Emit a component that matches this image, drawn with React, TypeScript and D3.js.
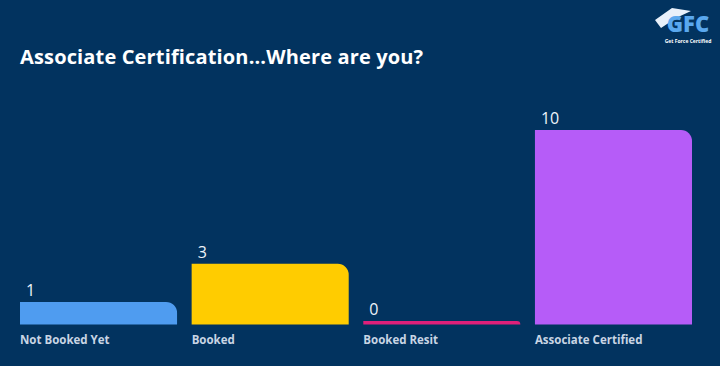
import React from "react";
import * as d3 from "d3";

const categories = ["Not Booked Yet", "Booked", "Booked Resit", "Associate Certified"];
const values = [1, 3, 0, 10];
const colors = ["#4f9cf0", "#ffcc00", "#e0207a", "#b65cf8"];

const W = 720;
const H = 366;

function barPath(x0: number, x1: number, yTop: number, yBottom: number, r: number) {
  const h = yBottom - yTop;
  const rr = Math.min(r, h, x1 - x0);
  if (rr < 1) return `M${x0},${yTop}H${x1}V${yBottom}H${x0}Z`;
  return `M${x0},${yBottom}V${yTop}H${x1 - rr}A${rr},${rr} 0 0 1 ${x1},${yTop + rr}V${yBottom}Z`;
}

export default function App() {
  const x = d3.scaleBand<string>().domain(categories).range([20, 692]).paddingInner(0.085).paddingOuter(0);
  const y = d3.scaleLinear().domain([0, 10]).range([321, 130]);
  const bottom = 324.5;
  return (
    <svg width={W} height={H} style={{ position: "absolute", left: 0, top: 0, display: "block" }}>
      <rect x={0} y={0} width={W} height={H} fill="#02335f" />
      <text x={20} y={64} fill="#ffffff" fontFamily="Open Sans, sans-serif" fontWeight={700} fontSize={20} letterSpacing={0.15}>
        Associate Certification...Where are you?
      </text>
      {/* logo */}
      <g>
        <path d="M655,20 L672,8 L691,11 L676,18 L661,28 Z" fill="#e8f0fa" />
        <text x={688} y={32} textAnchor="middle" fill="#5aa8ee" fontFamily="Open Sans, sans-serif" fontWeight={800} fontSize={22}>
          GFC
        </text>
        <text x={688} y={42.5} textAnchor="middle" fill="#ffffff" fontFamily="Open Sans, sans-serif" fontWeight={700} fontSize={5}>
          Get Force Certified
        </text>
      </g>
      {categories.map((c, i) => {
        const x0 = x(c)!;
        const x1 = x0 + x.bandwidth();
        const yt = y(values[i]);
        return (
          <g key={c}>
            <path d={barPath(x0, x1, yt, bottom, 11)} fill={colors[i]} />
            <text x={x0 + 6} y={yt - 6} fill="#eef3fa" fontFamily="Open Sans, sans-serif" fontSize={16}>
              {values[i]}
            </text>
            <text x={x0} y={344} fill="#c9d5e4" fontFamily="Open Sans, sans-serif" fontWeight={700} fontSize={11.5}>
              {c}
            </text>
          </g>
        );
      })}
    </svg>
  );
}
